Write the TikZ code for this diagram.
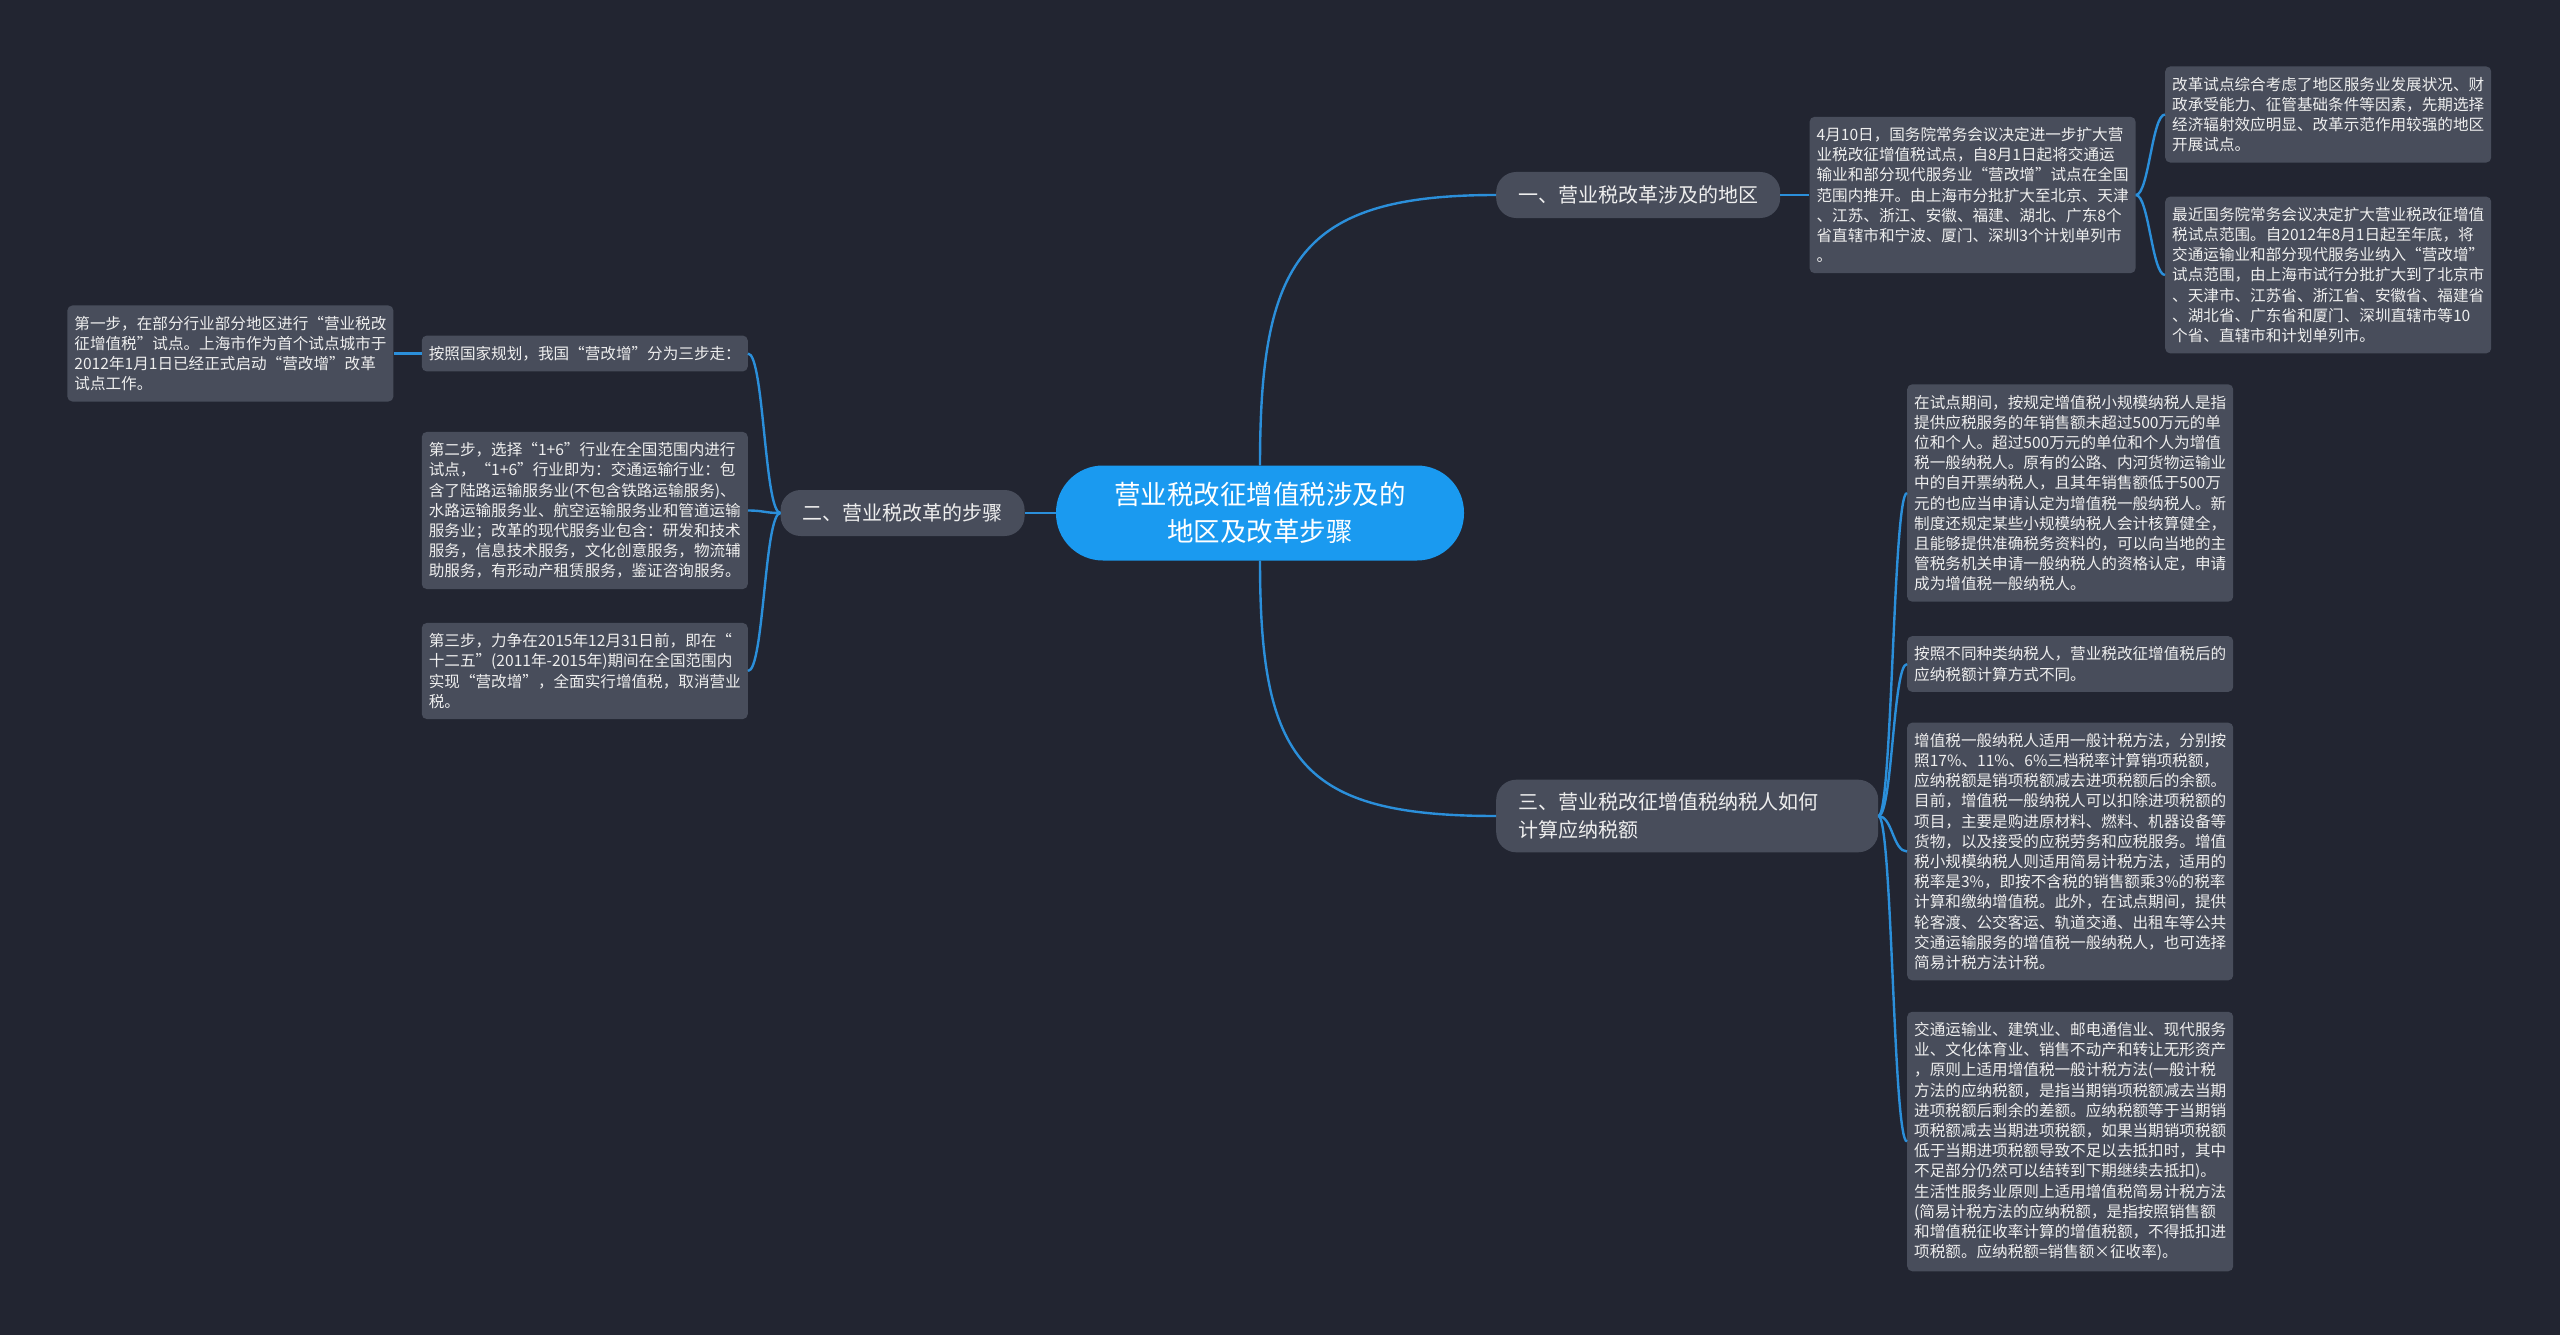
\documentclass[tikz,border=0pt]{standalone}
\usepackage{fontspec}
\newfontfamily\cjk{Noto Sans CJK SC}
\usetikzlibrary{positioning}
\definecolor{mapbg}{HTML}{222531}
\definecolor{nodegray}{HTML}{484D5B}
\definecolor{rootblue}{HTML}{1A9AF0}
\definecolor{linkblue}{HTML}{2B8FDA}
\definecolor{textwhite}{HTML}{EEEEEE}

\begin{document}
\begin{tikzpicture}[x=1pt, y=-1pt,
      root/.style={fill=rootblue, rounded corners=47pt, minimum width=408pt, minimum height=95pt,
                   align=center, text=white, font=\cjk\fontsize{26.5}{37}\selectfont},
      topic/.style={fill=nodegray, rounded corners=20pt, minimum height=46pt, inner xsep=22pt,
                    inner ysep=6pt, text=textwhite, font=\cjk\fontsize{20}{28}\selectfont},
      leaf/.style={fill=nodegray, rounded corners=5pt, text width=312pt, align=left, inner xsep=7pt,
                   inner ysep=10.5pt, text=textwhite, font=\cjk\fontsize{15.6}{20.2}\selectfont},
      conn/.style={draw=linkblue, line width=2.4pt}]
    \fill[mapbg] (0,0) rectangle (2560,1335);
    % centre and the three topics
    \node[root] (root) at (1260,513) {营业税改征增值税涉及的\\地区及改革步骤};
    \node[topic, anchor=west] (b1) at (1496,195) {一、营业税改革涉及的地区};
    \node[topic, left=31pt of root] (b2) {二、营业税改革的步骤};
    \node[topic, anchor=west, text width=338pt, align=left, inner ysep=13pt] (b3) at (1496,816) {三、营业税改征增值税纳税人如何\\计算应纳税额};
    % topic one
    \node[leaf, right=29pt of b1] (l1a) {4月10日，国务院常务会议决定进一步扩大营\\业税改征增值税试点，自8月1日起将交通运\\输业和部分现代服务业“营改增”试点在全国\\范围内推开。由上海市分批扩大至北京、天津\\、江苏、浙江、安徽、福建、湖北、广东8个\\省直辖市和宁波、厦门、深圳3个计划单列市\\。};
    \node[leaf, anchor=west] (l1b) at (2165,114.5) {改革试点综合考虑了地区服务业发展状况、财\\政承受能力、征管基础条件等因素，先期选择\\经济辐射效应明显、改革示范作用较强的地区\\开展试点。};
    \node[leaf, anchor=west] (l1c) at (2165,275) {最近国务院常务会议决定扩大营业税改征增值\\税试点范围。自2012年8月1日起至年底，将\\交通运输业和部分现代服务业纳入“营改增”\\试点范围，由上海市试行分批扩大到了北京市\\、天津市、江苏省、浙江省、安徽省、福建省\\、湖北省、广东省和厦门、深圳直辖市等10\\个省、直辖市和计划单列市。};
    % topic two
    \node[leaf, anchor=east] (s0) at (748,353.5) {按照国家规划，我国“营改增”分为三步走：};
    \node[leaf, left=28pt of s0] (s1) {第一步，在部分行业部分地区进行“营业税改\\征增值税”试点。上海市作为首个试点城市于\\2012年1月1日已经正式启动“营改增”改革\\试点工作。};
    \node[leaf, anchor=east] (s2) at (748,510.5) {第二步，选择“1+6”行业在全国范围内进行\\试点，“1+6”行业即为：交通运输行业：包\\含了陆路运输服务业(不包含铁路运输服务)、\\水路运输服务业、航空运输服务业和管道运输\\服务业；改革的现代服务业包含：研发和技术\\服务，信息技术服务，文化创意服务，物流辅\\助服务，有形动产租赁服务，鉴证咨询服务。};
    \node[leaf, anchor=east] (s3) at (748,671) {第三步，力争在2015年12月31日前，即在“\\十二五”(2011年-2015年)期间在全国范围内\\实现“营改增”，全面实行增值税，取消营业\\税。};
    % topic three
    \node[leaf, anchor=west] (c1) at (1907,493) {在试点期间，按规定增值税小规模纳税人是指\\提供应税服务的年销售额未超过500万元的单\\位和个人。超过500万元的单位和个人为增值\\税一般纳税人。原有的公路、内河货物运输业\\中的自开票纳税人，且其年销售额低于500万\\元的也应当申请认定为增值税一般纳税人。新\\制度还规定某些小规模纳税人会计核算健全，\\且能够提供准确税务资料的，可以向当地的主\\管税务机关申请一般纳税人的资格认定，申请\\成为增值税一般纳税人。};
    \node[leaf, anchor=west] (c2) at (1907,664) {按照不同种类纳税人，营业税改征增值税后的\\应纳税额计算方式不同。};
    \node[leaf, anchor=west] (c3) at (1907,851.5) {增值税一般纳税人适用一般计税方法，分别按\\照17\%、11\%、6\%三档税率计算销项税额，\\应纳税额是销项税额减去进项税额后的余额。\\目前，增值税一般纳税人可以扣除进项税额的\\项目，主要是购进原材料、燃料、机器设备等\\货物，以及接受的应税劳务和应税服务。增值\\税小规模纳税人则适用简易计税方法，适用的\\税率是3\%，即按不含税的销售额乘3\%的税率\\计算和缴纳增值税。此外，在试点期间，提供\\轮客渡、公交客运、轨道交通、出租车等公共\\交通运输服务的增值税一般纳税人，也可选择\\简易计税方法计税。};
    \node[leaf, anchor=west] (c4) at (1907,1141.5) {交通运输业、建筑业、邮电通信业、现代服务\\业、文化体育业、销售不动产和转让无形资产\\，原则上适用增值税一般计税方法(一般计税\\方法的应纳税额，是指当期销项税额减去当期\\进项税额后剩余的差额。应纳税额等于当期销\\项税额减去当期进项税额，如果当期销项税额\\低于当期进项税额导致不足以去抵扣时，其中\\不足部分仍然可以结转到下期继续去抵扣)。\\生活性服务业原则上适用增值税简易计税方法\\(简易计税方法的应纳税额，是指按照销售额\\和增值税征收率计算的增值税额，不得抵扣进\\项税额。应纳税额=销售额×征收率)。};
    % links
    \draw[conn] (root.north) .. controls +(0,-205) and +(-196,0) .. (b1.west);
    \draw[conn] (root.south) .. controls +(0,200) and +(-196,0) .. (b3.west);
    \draw[conn] (root.west) -- (b2.east);
    \draw[conn] (b1.east) -- (l1a.west);
    \foreach \c in {l1b,l1c} \draw[conn] (l1a.east) .. controls +(13,0) and +(-13,0) .. (\c.west);
    \foreach \c in {s0,s2,s3} \draw[conn] (b2.west) .. controls +(-16,0) and +(16,0) .. (\c.east);
    \draw[conn] (s0.west) -- (s1.east);
    \foreach \c in {c1,c2,c3,c4} \draw[conn] (b3.east) .. controls +(14,0) and +(-14,0) .. (\c.west);
\end{tikzpicture}
\end{document}
